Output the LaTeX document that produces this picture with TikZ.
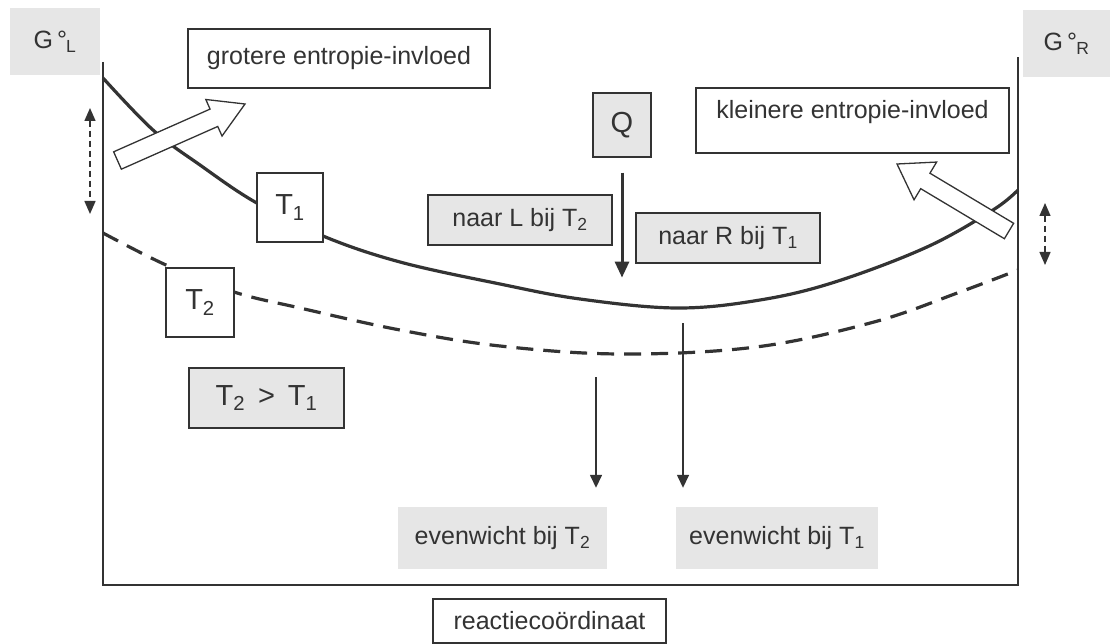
\documentclass[tikz,border=0pt]{standalone}
\usepackage{fontspec}
\setmainfont{Liberation Sans}
\usetikzlibrary{arrows.meta,calc}
\definecolor{ink}{HTML}{333333}
\definecolor{boxgray}{HTML}{E6E6E6}
\begin{document}
\begin{tikzpicture}[x=1pt,y=-1pt,
  every node/.style={font=\fontsize{25}{29}\selectfont, text=ink},
  big/.style={font=\fontsize{29}{32}\selectfont},
  corner/.style={font=\fontsize{25}{28}\selectfont},
  wbox/.style={draw=ink, line width=1.2pt, fill=white, inner sep=0pt},
  gbox/.style={draw=ink, line width=1.2pt, fill=boxgray, inner sep=0pt},
  gfill/.style={fill=boxgray, inner sep=0pt},
  axisline/.style={draw=ink, line width=1.4pt},
  curveone/.style={draw=ink, line width=3.2pt},
  curvetwo/.style={draw=ink, line width=3.2pt, dash pattern=on 17pt off 10pt},
  qarrow/.style={draw=ink, line width=3pt, -{Triangle[width=14pt,length=16pt]}},
  eqarrow/.style={draw=ink, line width=1.5pt, -{Triangle[width=12pt,length=13pt]}},
  dblarrow/.style={draw=ink, line width=1.4pt, dash pattern=on 6pt off 4pt, {Triangle[width=11pt,length=13pt]}-{Triangle[width=11pt,length=13pt]}},
  bigarrow/.style={draw=ink, line width=1.3pt, fill=white, line join=miter}
]
\useasboundingbox (0,0) rectangle (1110,644);

% axes
\coordinate (ltop) at (103,62);
\coordinate (origin) at (103,585);
\coordinate (rbot) at (1018,585);
\coordinate (rtop) at (1018,57);
\draw[axisline] (ltop) -- (origin) -- (rbot) -- (rtop);

% curves
\draw[curveone] plot[smooth, tension=0.6] coordinates {(103,78) (153,130) (200,165) (255,202) (323,236) (400,262) (500,284) (580,299) (677,308) (760,300) (835,282) (927,247) (993,210) (1018,190)};
\draw[curvetwo] plot[smooth, tension=0.6] coordinates {(103,233) (166,265) (234,292) (300,308) (400,330) (500,346) (621,354) (756,347) (874,322) (960,292) (1018,270)};

% corner labels
\node[gfill, corner, minimum width=90, minimum height=67] (GL) at (55,41.5) {G\,°\kern-1pt\textsubscript{L}};
\node[gfill, corner, minimum width=87, minimum height=67] (GR) at (1066.5,43.5) {G\,°\kern-1pt\textsubscript{R}};

% boxes
\node[wbox, minimum width=302, minimum height=59] (grot) at (339,58.5) {grotere entropie-invloed};
\node[wbox, minimum width=313, minimum height=65, text height=21pt, text depth=24pt, inner ysep=10pt] (klein) at (852.5,120.5) {kleinere entropie-invloed};
\node[gbox, big, minimum width=58, minimum height=64] (Q) at (622,125) {Q};
\node[gbox, minimum width=184, minimum height=50] (naarL) at (520,220) {naar L bij T\textsubscript{2}};
\node[gbox, minimum width=184, minimum height=50] (naarR) at (728,238) {naar R bij T\textsubscript{1}};
\node[wbox, big, minimum width=66, minimum height=69] (T1) at (290,207.5) {T\textsubscript{1}};
\node[wbox, big, minimum width=68, minimum height=69] (T2) at (200,302.5) {T\textsubscript{2}};
\node[gbox, big, minimum width=155, minimum height=60] (cmp) at (266.5,398) {T\textsubscript{2} \,>\, T\textsubscript{1}};
\node[gfill, minimum width=209, minimum height=62] (ev2) at (502.5,538) {evenwicht bij T\textsubscript{2}};
\node[gfill, minimum width=202, minimum height=62] (ev1) at (777,538) {evenwicht bij T\textsubscript{1}};
\node[wbox, minimum width=233, minimum height=44] (rc) at (549.5,621) {reactiecoördinaat};

% arrows
\draw[qarrow] ([yshift=-15pt]Q.south) -- ([yshift=-120pt]Q.south);
\coordinate (e2s) at (596,377);
\coordinate (e1s) at (683,323);
\draw[eqarrow] (e2s) -- ([yshift=19pt]e2s |- ev2.north);
\draw[eqarrow] (e1s) -- ([yshift=19pt]e1s |- ev1.north);

% dashed double arrows
\coordinate (dla) at (90,108);
\coordinate (dlb) at (90,214);
\draw[dblarrow] (dla) -- (dlb);
\coordinate (dra) at (1045,203);
\coordinate (drb) at (1045,265);
\draw[dblarrow] (dra) -- (drb);

% big open arrows
\coordinate (LAt) at (117.5,160.5);
\coordinate (LAp) at (245,104);
\coordinate (LAh) at ($(LAp)!34pt!(LAt)$);
\draw[bigarrow] ($(LAt)!9.5pt!90:(LAp)$) -- ($(LAh)!9.5pt!90:(LAp)$) -- ($(LAh)!20pt!90:(LAp)$) -- (LAp) -- ($(LAh)!20pt!-90:(LAp)$) -- ($(LAh)!9.5pt!-90:(LAp)$) -- ($(LAt)!9.5pt!-90:(LAp)$) -- cycle;

\coordinate (RAt) at (1009,231);
\coordinate (RAp) at (897,164);
\coordinate (RAh) at ($(RAp)!33pt!(RAt)$);
\draw[bigarrow] ($(RAt)!9pt!90:(RAp)$) -- ($(RAh)!9pt!90:(RAp)$) -- ($(RAh)!22pt!90:(RAp)$) -- (RAp) -- ($(RAh)!22pt!-90:(RAp)$) -- ($(RAh)!9pt!-90:(RAp)$) -- ($(RAt)!9pt!-90:(RAp)$) -- cycle;
\end{tikzpicture}
\end{document}
